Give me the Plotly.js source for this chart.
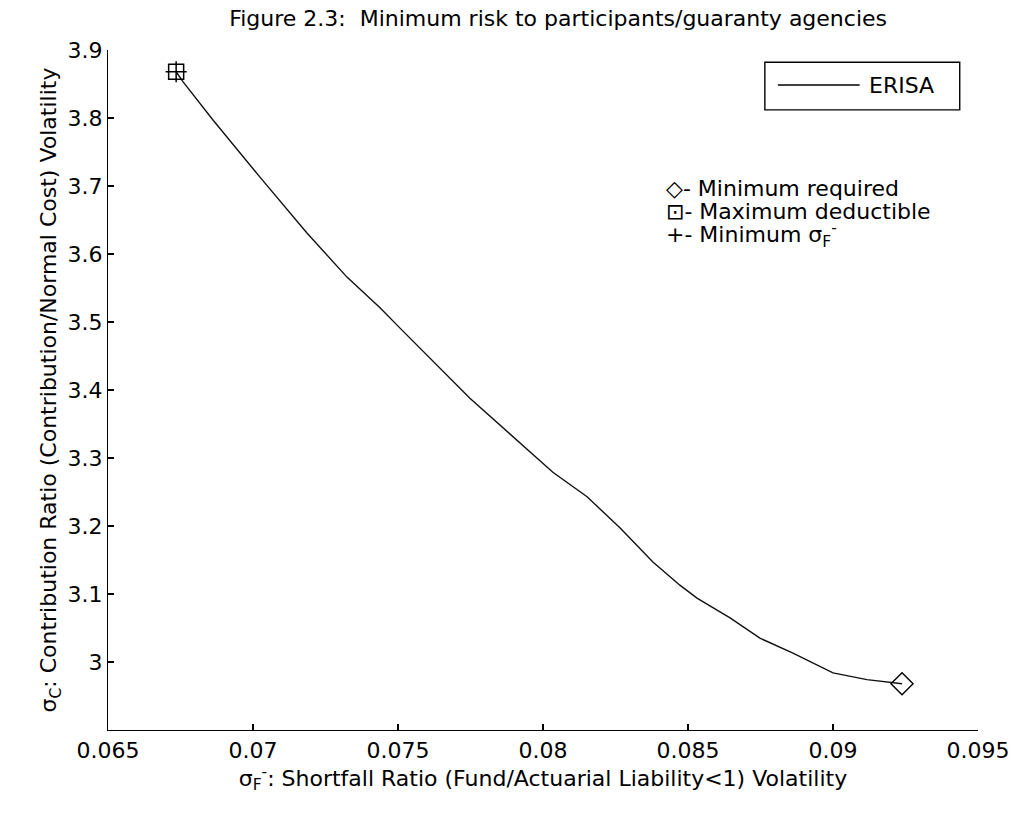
<!DOCTYPE html>
<html>
<head>
<meta charset="utf-8">
<script src="https://cdn.plot.ly/plotly-3.0.1.min.js"></script>
<style>html,body{margin:0;padding:0;background:#fff;}#chart{width:1011px;height:814px;}</style>
</head>
<body>
<div id="chart"></div>
<script>
// Shortfall ratio volatility (sigma_F^-) and contribution ratio volatility (sigma_C) along the ERISA frontier
const sigmaF = [0.06735, 0.06759, 0.06862, 0.07024, 0.07186, 0.07324, 0.07438, 0.07507, 0.07748, 0.07921,
                0.08034, 0.08152, 0.08266, 0.08379, 0.08472, 0.08531, 0.08645, 0.08748, 0.08862, 0.09000,
                0.09117, 0.09238];
const sigmaC = [3.868, 3.853, 3.797, 3.713, 3.631, 3.566, 3.521, 3.491, 3.388, 3.322,
                3.279, 3.243, 3.197, 3.147, 3.113, 3.094, 3.065, 3.035, 3.013, 2.984,
                2.974, 2.968];
const seriesName = "ERISA";
const xTicks = [0.065, 0.07, 0.075, 0.08, 0.085, 0.09, 0.095];
const xTickText = ["0.065", "0.07", "0.075", "0.08", "0.085", "0.09", "0.095"];
const yTicks = [3, 3.1, 3.2, 3.3, 3.4, 3.5, 3.6, 3.7, 3.8, 3.9];
const yTickText = ["3", "3.1", "3.2", "3.3", "3.4", "3.5", "3.6", "3.7", "3.8", "3.9"];
const noteLines = ["\u25C7- Minimum required", "\u22A1- Maximum deductible", "+- Minimum \u03C3<sub>F</sub><sup>-</sup>"];

const FONT = "DejaVu Sans, Liberation Sans, sans-serif";
const FS = 22;
const last = sigmaF.length - 1;

const traces = [
  {x: sigmaF, y: sigmaC, mode: "lines", name: seriesName, line: {color: "#111", width: 1.4}, showlegend: false},
  {x: [sigmaF[0]], y: [sigmaC[0]], mode: "markers", showlegend: false,
   marker: {symbol: "square-open", size: 15, color: "#000", line: {width: 1.5, color: "#000"}}},
  {x: [sigmaF[0]], y: [sigmaC[0]], mode: "markers", showlegend: false,
   marker: {symbol: "cross-thin-open", size: 15, color: "#000", line: {width: 1.5, color: "#000"}}},
  {x: [sigmaF[last]], y: [sigmaC[last]], mode: "markers", showlegend: false,
   marker: {symbol: "diamond-open", size: 17, color: "#000", line: {width: 1.4, color: "#000"}}}
];

const annotations = noteLines.map((t, i) => ({
  xref: "paper", yref: "paper", x: 0.639, y: 0.797 - i * 0.0345, xanchor: "left", yanchor: "middle",
  text: t, showarrow: false, font: {family: FONT, size: FS, color: "#000"}
}));
annotations.push({
  xref: "paper", yref: "paper", x: 0.872, y: 0.9485, xanchor: "left", yanchor: "middle",
  text: seriesName, showarrow: false, font: {family: FONT, size: FS, color: "#000"}
});

const layout = {
  width: 1011, height: 814,
  margin: {l: 108, r: 33, t: 50, b: 84},
  paper_bgcolor: "#fff", plot_bgcolor: "#fff",
  showlegend: false,
  title: {text: "Figure 2.3:  Minimum risk to participants/guaranty agencies",
          font: {family: FONT, size: FS, color: "#000"}, x: 0.552, xanchor: "center", y: 0.978, yanchor: "middle"},
  xaxis: {
    range: [0.065, 0.095], tickvals: xTicks, ticktext: xTickText,
    showgrid: false, zeroline: false, showline: true, linecolor: "#000", linewidth: 1.2,
    ticks: "inside", ticklen: 6, tickcolor: "#000", tickwidth: 1.2,
    tickfont: {family: FONT, size: FS, color: "#000"},
    title: {text: "\u03C3<sub>F</sub><sup>-</sup>: Shortfall Ratio (Fund/Actuarial Liability&lt;1) Volatility",
            font: {family: FONT, size: FS, color: "#000"}, standoff: 3}
  },
  yaxis: {
    range: [2.9, 3.9], tickvals: yTicks, ticktext: yTickText,
    showgrid: false, zeroline: false, showline: true, linecolor: "#000", linewidth: 1.2,
    ticks: "inside", ticklen: 6, tickcolor: "#000", tickwidth: 1.2,
    tickfont: {family: FONT, size: FS, color: "#000"},
    title: {text: "\u03C3<sub>C</sub>: Contribution Ratio (Contribution/Normal Cost) Volatility",
            font: {family: FONT, size: FS, color: "#000"}, standoff: 4}
  },
  shapes: [
    {type: "rect", xref: "paper", yref: "paper", x0: 0.755, x1: 0.979, y0: 0.912, y1: 0.982,
     line: {color: "#000", width: 1.4}, fillcolor: "rgba(0,0,0,0)"},
    {type: "line", xref: "paper", yref: "paper", x0: 0.770, x1: 0.864, y0: 0.9485, y1: 0.9485,
     line: {color: "#000", width: 1.4}}
  ],
  annotations: annotations
};

Plotly.newPlot("chart", traces, layout, {displayModeBar: false, staticPlot: true});
</script>
</body>
</html>
